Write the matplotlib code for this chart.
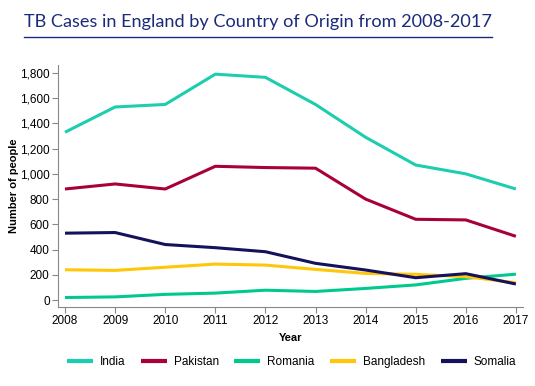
import matplotlib
matplotlib.use("Agg")
import matplotlib.pyplot as plt
from matplotlib.lines import Line2D
from matplotlib.ticker import FuncFormatter

years = [2008, 2009, 2010, 2011, 2012, 2013, 2014, 2015, 2016, 2017]
india = [1330, 1530, 1550, 1790, 1765, 1550, 1290, 1070, 1000, 880]
pakistan = [880, 920, 880, 1060, 1050, 1045, 800, 640, 635, 505]
romania = [20, 25, 45, 55, 78, 68, 92, 120, 172, 205]
bangladesh = [240, 235, 260, 285, 277, 243, 211, 204, 185, 137]
somalia = [530, 535, 440, 415, 383, 291, 238, 177, 209, 127]

series = [("India", india, "#1DCDB0"),
          ("Pakistan", pakistan, "#A8003A"),
          ("Romania", romania, "#00C98E"),
          ("Bangladesh", bangladesh, "#FFC60A"),
          ("Somalia", somalia, "#15125C")]

plt.rcParams['font.family'] = ['Liberation Sans', 'DejaVu Sans']

fig = plt.figure(figsize=(5.35, 3.86), dpi=100)
ax = fig.add_axes([0.1084, 0.2047, 0.869, 0.627])

for name, vals, col in series:
    ax.plot(years, vals, color=col, lw=2.2, label=name, solid_capstyle='butt')

ax.set_xlim(2007.86, 2017.14)
ax.set_ylim(-55, 1863)
ax.set_xticks(years)
ax.set_yticks(range(0, 1801, 200))
ax.yaxis.set_major_formatter(FuncFormatter(lambda v, p: f"{int(v):,}"))
for s in ['top', 'right']:
    ax.spines[s].set_visible(False)
for s in ['left', 'bottom']:
    ax.spines[s].set_color('#888888')
    ax.spines[s].set_linewidth(0.8)
ax.tick_params(axis='both', labelsize=8.5, color='#888888', length=4, width=0.8, pad=2)
ax.set_xlabel("Year", fontsize=8, fontweight='bold', labelpad=4)
ax.set_ylabel("Number of people", fontsize=8, fontweight='bold', labelpad=1)

leg = fig.legend(loc='center', bbox_to_anchor=(0.545, 0.062), ncol=5, frameon=False,
                 fontsize=8.5, handlelength=2.2, handletextpad=0.6, columnspacing=1.3)
for h in leg.get_lines():
    h.set_linewidth(3)

title = fig.text(258 / 535, 1 - 22 / 386, "TB Cases in England by Country of Origin from 2008-2017",
                 ha='center', va='center', fontsize=13.1, color='#1B2A7A', family='Lato')
fig.canvas.draw()
bb = title.get_window_extent(fig.canvas.get_renderer())
x0, x1 = bb.x0 / fig.bbox.width, bb.x1 / fig.bbox.width
yl = 1 - 37 / 386
fig.add_artist(Line2D([x0, x1], [yl, yl], transform=fig.transFigure, color='#1B2A7A', lw=1.0))

fig.savefig("out.png", dpi=100)
